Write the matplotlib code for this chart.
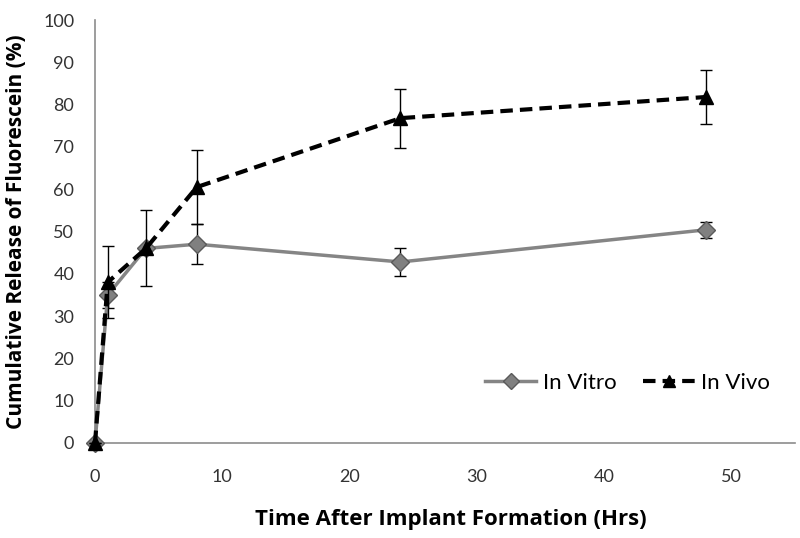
import matplotlib
matplotlib.use("Agg")
import matplotlib.pyplot as plt
from matplotlib.lines import Line2D

time_hrs = [0, 1, 4, 8, 24, 48]
in_vitro = [0, 35, 46, 47, 42.8, 50.4]
in_vitro_err = [0, 3, 0.5, 4.7, 3.4, 1.9]
in_vivo = [0, 38, 46, 60.5, 76.8, 81.8]
in_vivo_err = [0, 8.5, 9, 8.7, 7, 6.3]
x_ticks = [0, 10, 20, 30, 40, 50]
y_ticks = list(range(0, 101, 10))
series_names = ['In Vitro', 'In Vivo']

plt.rcParams['font.family'] = ['Lato', 'DejaVu Sans']

fig = plt.figure(figsize=(8, 5.38), dpi=100)
ax = fig.add_axes([0.11875, 0.17658, 0.875, 0.7862])

vitro_style = dict(color='#858585', lw=2.5, marker='D', markersize=9,
                   markerfacecolor='#808080', markeredgecolor='#5a5a5a', markeredgewidth=1)
vivo_style = dict(color='black', lw=3, ls=(0, (3, 1.7)), marker='^', markersize=10,
                  markerfacecolor='black', markeredgecolor='black')

ax.errorbar(time_hrs, in_vitro, yerr=in_vitro_err, ecolor='black', elinewidth=1,
            capsize=4, capthick=1, zorder=3, clip_on=False, **vitro_style)
ax.errorbar(time_hrs, in_vivo, yerr=in_vivo_err, ecolor='black', elinewidth=1,
            capsize=4, capthick=1, zorder=4, clip_on=False, **vivo_style)

ax.set_xlim(0, 55)
ax.set_ylim(0, 100)
ax.set_xticks(x_ticks)
ax.set_yticks(y_ticks)
ax.tick_params(axis='both', length=0, labelsize=13, labelcolor='#333333')
ax.tick_params(axis='x', pad=19)
ax.tick_params(axis='y', pad=15)
for s in ['top', 'right']:
    ax.spines[s].set_visible(False)
for s in ['left', 'bottom']:
    ax.spines[s].set_color('#8c8c8c')
    ax.spines[s].set_linewidth(1.2)

label_family = ['Open Sans', 'DejaVu Sans']
ax.set_xlabel('Time After Implant Formation (Hrs)', va='center', family=label_family,
              fontsize=16, fontweight='bold')
ax.xaxis.set_label_coords(0.509, -0.182)
ax.set_ylabel('Cumulative Release of Fluorescein (%)', va='center', family=label_family,
              fontsize=15, fontweight='bold')
ax.yaxis.set_label_coords(-0.112, 0.50)

handles = [Line2D([], [], **dict(vitro_style, markersize=8)),
           Line2D([], [], **dict(vivo_style, markersize=9))]
ax.legend(handles, series_names, loc='center', bbox_to_anchor=(0.761, 0.142), ncol=2,
          frameon=False, fontsize=16, handlelength=2.3, columnspacing=1.2, handletextpad=0.3)

fig.savefig('out.png', dpi=100)
